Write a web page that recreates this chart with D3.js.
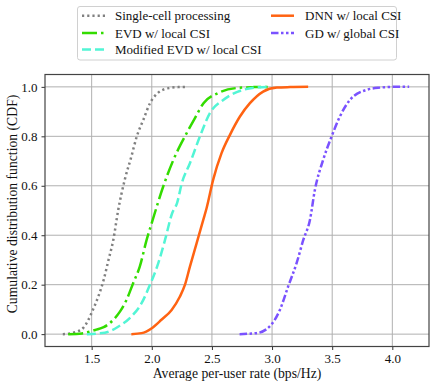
<!DOCTYPE html>
<html>
<head>
<meta charset="utf-8">
<script src="https://cdn.jsdelivr.net/npm/d3@7"></script>
<style>
  body { margin: 0; background: #fff; }
  svg text { font-family: "Liberation Serif", "Times New Roman", Tinos, "DejaVu Serif", serif !important; }
</style>
</head>
<body>
<div id="chart"></div>
<script>
const singleX = [1.26, 1.32, 1.375, 1.43, 1.47, 1.51, 1.555, 1.60, 1.64, 1.68, 1.72, 1.775, 1.83, 1.875, 1.93, 1.985, 2.05, 2.14, 2.22, 2.30]
const singleY = [0, 0.003, 0.01, 0.025, 0.055, 0.098, 0.152, 0.22, 0.30, 0.381, 0.50, 0.624, 0.718, 0.799, 0.867, 0.934, 0.975, 0.995, 0.999, 1.0]

const evdX = [1.305, 1.42, 1.53, 1.60, 1.68, 1.735, 1.79, 1.845, 1.90, 1.957, 2.0, 2.095, 2.18, 2.29, 2.36, 2.43, 2.55, 2.70, 2.85, 2.98]
const evdY = [0, 0.003, 0.017, 0.028, 0.058, 0.091, 0.139, 0.206, 0.273, 0.381, 0.45, 0.597, 0.705, 0.813, 0.875, 0.934, 0.975, 0.995, 0.999, 1.0]

const modX = [1.46, 1.61, 1.72, 1.83, 1.915, 1.985, 2.054, 2.11, 2.17, 2.21, 2.25, 2.317, 2.40, 2.483, 2.594, 2.76, 2.88, 2.98]
const modY = [0, 0.006, 0.03, 0.071, 0.125, 0.2, 0.287, 0.381, 0.49, 0.53, 0.611, 0.691, 0.799, 0.894, 0.947, 0.988, 0.998, 1.0]

const dnnX = [1.83, 1.915, 2.0, 2.08, 2.165, 2.234, 2.276, 2.317, 2.373, 2.428, 2.456, 2.51, 2.58, 2.65, 2.733, 2.816, 2.926, 3.04, 3.15, 3.30]
const dnnY = [0, 0.004, 0.024, 0.058, 0.098, 0.152, 0.2, 0.273, 0.368, 0.462, 0.51, 0.624, 0.732, 0.806, 0.88, 0.934, 0.981, 0.997, 0.999, 1.0]

const gdX = [2.73, 2.87, 2.98, 3.065, 3.134, 3.204, 3.259, 3.315, 3.356, 3.425, 3.495, 3.564, 3.647, 3.786, 3.90, 4.01, 4.14]
const gdY = [0, 0.004, 0.031, 0.098, 0.193, 0.287, 0.38, 0.462, 0.583, 0.705, 0.799, 0.88, 0.947, 0.988, 0.997, 1.0, 1.0]

const seriesNames = ["Single-cell processing", "EVD w/ local CSI", "Modified EVD w/ local CSI", "DNN w/ local CSI", "GD w/ global CSI"]
const xTicks = [1.5, 2.0, 2.5, 3.0, 3.5, 4.0]
const yTicks = [0.0, 0.2, 0.4, 0.6, 0.8, 1.0]

const W = 436, H = 388
const margin = {left: 45, top: 74.5, right: 7, bottom: 41.5}
const serif = "'Liberation Serif', 'Times New Roman', Tinos, serif"

const series = [
  {name: seriesNames[0], xs: singleX, ys: singleY, color: "#808080", dash: "2.2 3"},
  {name: seriesNames[1], xs: evdX, ys: evdY, color: "#33dc00", dash: "15 4 2.5 4"},
  {name: seriesNames[2], xs: modX, ys: modY, color: "#52f5d5", dash: "9 4"},
  {name: seriesNames[3], xs: dnnX, ys: dnnY, color: "#ff6312", dash: null},
  {name: seriesNames[4], xs: gdX, ys: gdY, color: "#7a52ff", dash: "7.5 2.5 2.5 2.5 2.5 2.5"}
]

const svg = d3.select("#chart").append("svg").attr("width", W).attr("height", H)
  .attr("font-family", serif)

const x = d3.scaleLinear().domain([1.112, 4.305]).range([margin.left, W - margin.right])
const y = d3.scaleLinear().domain([-0.05, 1.05]).range([H - margin.bottom, margin.top])

// grid
const grid = svg.append("g")
grid.selectAll(".gx").data(xTicks).join("line")
  .attr("x1", d => x(d)).attr("x2", d => x(d))
  .attr("y1", y.range()[0]).attr("y2", y.range()[1])
  .attr("stroke", "#b0b0b0").attr("stroke-width", 1)
grid.selectAll(".gy").data(yTicks).join("line")
  .attr("y1", d => y(d)).attr("y2", d => y(d))
  .attr("x1", x.range()[0]).attr("x2", x.range()[1])
  .attr("stroke", "#b0b0b0").attr("stroke-width", 1)

// curves
const line = d3.line().x(d => x(d[0])).y(d => y(d[1])).curve(d3.curveMonotoneX)
series.forEach(s => {
  const pts = s.xs.map((v, i) => [v, s.ys[i]])
  svg.append("path").datum(pts)
    .attr("d", line)
    .attr("fill", "none")
    .attr("stroke", s.color)
    .attr("stroke-width", 2.5)
    .attr("stroke-dasharray", s.dash)
})

// axes
const xAxis = d3.axisBottom(x).tickValues(xTicks).tickFormat(d3.format(".1f")).tickSize(3.5).tickPadding(4)
const yAxis = d3.axisLeft(y).tickValues(yTicks).tickFormat(d3.format(".1f")).tickSize(3.5).tickPadding(4)

const gx = svg.append("g").attr("transform", `translate(0,${H - margin.bottom})`).call(xAxis)
const gy = svg.append("g").attr("transform", `translate(${margin.left},0)`).call(yAxis)
;[gx, gy].forEach(g => {
  g.attr("font-family", serif)
  g.select(".domain").remove()
  g.selectAll(".tick line").attr("stroke", "#333").attr("stroke-width", 1)
  g.selectAll(".tick text").attr("font-size", 13).attr("fill", "#111")
})

// frame
svg.append("rect")
  .attr("x", x.range()[0]).attr("y", y.range()[1])
  .attr("width", x.range()[1] - x.range()[0])
  .attr("height", y.range()[0] - y.range()[1])
  .attr("fill", "none").attr("stroke", "#444").attr("stroke-width", 1.2)

// labels
svg.append("text")
  .attr("x", (x.range()[0] + x.range()[1]) / 2).attr("y", 377.5)
  .attr("text-anchor", "middle").attr("font-size", 13.7).attr("fill", "#111")
  .text("Average per-user rate (bps/Hz)")
svg.append("text")
  .attr("transform", "translate(16.5,204) rotate(-90)")
  .attr("text-anchor", "middle").attr("font-size", 13.7).attr("fill", "#111")
  .text("Cumulative distribution function (CDF)")

// legend
const legend = svg.append("g")
legend.append("rect")
  .attr("x", 77.5).attr("y", 6.5).attr("width", 319).attr("height", 53.5)
  .attr("rx", 2.5).attr("fill", "#fff").attr("stroke", "#d0d0d0").attr("stroke-width", 1)

const cols = [{hx: 82, tx: 115}, {hx: 271, tx: 305}]
const rowY = [15.7, 33, 49.5]
series.forEach((s, i) => {
  const c = i < 3 ? cols[0] : cols[1]
  const ry = rowY[i < 3 ? i : i - 3]
  legend.append("line")
    .attr("x1", c.hx).attr("x2", c.hx + 23)
    .attr("y1", ry).attr("y2", ry)
    .attr("stroke", s.color).attr("stroke-width", 2.5)
    .attr("stroke-dasharray", s.dash)
  legend.append("text")
    .attr("x", c.tx).attr("y", ry).attr("dy", "0.35em")
    .attr("font-size", 13).attr("fill", "#111")
    .text(s.name)
})
</script>
</body>
</html>
